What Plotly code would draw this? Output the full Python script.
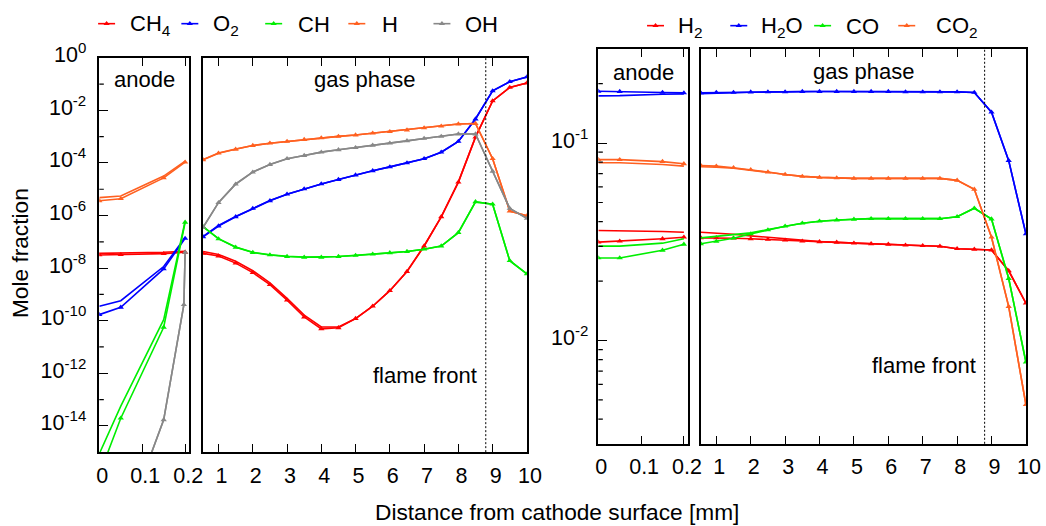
import plotly.graph_objects as go

W, H = 1046, 526
FONT = "Liberation Sans, Arial, Helvetica, sans-serif"
FS_TICK, FS_TEXT, FS_TITLE = 21.5, 22, 22.7

# ---------------- distance grids [mm] ----------------
anode_x = [0.0, 0.05, 0.15, 0.2]
oh_anode_x = [0.0, 0.05, 0.15, 0.197, 0.2]
gas_x = [0.55, 1.0, 1.5, 2.0, 2.5, 3.0, 3.5, 4.0, 4.5, 5.0,
         5.5, 6.0, 6.5, 7.0, 7.5, 8.0, 8.5, 9.0, 9.5, 10.0]
flame_front = 8.8

# ---------------- minor species, log10(mole fraction) ----------------
# run "a" is drawn with symbols, run "b" as a plain line
ch4_anode_a = [-7.50, -7.49, -7.45, -7.40]
ch4_anode_b = [-7.44, -7.43, -7.40, -7.36]
ch4_gas_a = [-7.44, -7.54, -7.81, -8.17, -8.63, -9.22, -9.86, -10.31, -10.27, -9.92,
             -9.45, -8.86, -8.13, -7.16, -6.05, -4.73, -3.02, -1.64, -1.13, -0.96]
ch4_gas_b = [-7.37, -7.48, -7.74, -8.10, -8.56, -9.15, -9.79, -10.24, -10.24, -9.92,
             -9.45, -8.86, -8.13, -7.16, -6.05, -4.73, -3.02, -1.64, -1.13, -0.96]

o2_anode_a = [-9.77, -9.49, -8.03, -6.87]
o2_anode_b = [-9.45, -9.24, -7.94, -6.84]
o2_gas_a = [-6.81, -6.40, -6.05, -5.73, -5.44, -5.19, -4.99, -4.80, -4.63, -4.46,
            -4.30, -4.15, -4.00, -3.84, -3.59, -3.18, -2.33, -1.26, -0.91, -0.73]
o2_gas_b = [-6.79, -6.38, -6.04, -5.72, -5.43, -5.19, -4.99, -4.80, -4.63, -4.46,
            -4.30, -4.15, -4.00, -3.84, -3.59, -3.18, -2.33, -1.26, -0.91, -0.73]

ch_anode_a = [-15.86, -13.71, -10.25, -6.26]
ch_anode_b = [-15.06, -13.25, -9.96, -6.21]
ch_gas_a = [-6.43, -6.89, -7.21, -7.41, -7.50, -7.56, -7.59, -7.59, -7.56, -7.52,
            -7.47, -7.42, -7.37, -7.28, -7.16, -6.65, -5.48, -5.57, -7.72, -8.22]
ch_gas_b = [-6.42, -6.88, -7.20, -7.40, -7.49, -7.55, -7.58, -7.58, -7.56, -7.52,
            -7.47, -7.42, -7.37, -7.28, -7.16, -6.65, -5.48, -5.57, -7.72, -8.22]

h_anode_a = [-5.44, -5.36, -4.57, -3.97]
h_anode_b = [-5.32, -5.26, -4.50, -3.93]
h_gas_a = [-3.88, -3.63, -3.48, -3.34, -3.25, -3.18, -3.11, -3.05, -2.99, -2.94,
           -2.87, -2.81, -2.75, -2.67, -2.60, -2.52, -2.50, -3.84, -5.83, -6.01]
h_gas_b = [-3.87, -3.62, -3.47, -3.34, -3.25, -3.18, -3.11, -3.05, -2.99, -2.94,
           -2.87, -2.81, -2.75, -2.67, -2.60, -2.52, -2.50, -3.84, -5.83, -6.01]

oh_anode_a = [-20.4, -18.2, -13.77, -9.39, -7.40]
oh_anode_b = [-20.4, -18.2, -13.77, -9.39, -7.40]
oh_gas_a = [-6.45, -5.51, -4.81, -4.35, -4.06, -3.84, -3.72, -3.59, -3.50, -3.42,
            -3.33, -3.25, -3.16, -3.07, -2.99, -2.90, -2.90, -4.32, -5.73, -6.11]
oh_gas_b = [-6.45, -5.50, -4.80, -4.34, -4.06, -3.84, -3.72, -3.59, -3.50, -3.42,
            -3.33, -3.25, -3.16, -3.07, -2.99, -2.90, -2.90, -4.32, -5.73, -6.11]

# ---------------- major species, log10(mole fraction) ----------------
h2_anode_a = [-1.502, -1.497, -1.485, -1.477]
h2_anode_b = [-1.443, -1.444, -1.448, -1.452]
h2_gas_a = [-1.480, -1.480, -1.482, -1.485, -1.488, -1.492, -1.497, -1.500, -1.503, -1.507,
            -1.510, -1.513, -1.517, -1.520, -1.523, -1.535, -1.538, -1.542, -1.647, -1.811]
h2_gas_b = [-1.452, -1.456, -1.462, -1.470, -1.478, -1.486, -1.494, -1.499, -1.503, -1.507,
            -1.510, -1.513, -1.517, -1.520, -1.523, -1.535, -1.538, -1.542, -1.647, -1.811]

h2o_anode_a = [-0.738, -0.739, -0.744, -0.746]
h2o_anode_b = [-0.761, -0.760, -0.753, -0.751]
h2o_gas_a = [-0.746, -0.744, -0.744, -0.742, -0.741, -0.741, -0.739, -0.739, -0.739, -0.739,
             -0.739, -0.739, -0.741, -0.741, -0.741, -0.741, -0.744, -0.844, -1.089, -1.460]
h2o_gas_b = [-0.750, -0.746, -0.745, -0.743, -0.741, -0.741, -0.739, -0.739, -0.739, -0.739,
             -0.739, -0.739, -0.741, -0.741, -0.741, -0.741, -0.744, -0.844, -1.089, -1.460]

co_anode_a = [-1.582, -1.582, -1.543, -1.513]
co_anode_b = [-1.522, -1.522, -1.507, -1.485]
co_gas_a = [-1.510, -1.498, -1.482, -1.460, -1.440, -1.421, -1.406, -1.396, -1.390, -1.386,
            -1.383, -1.383, -1.383, -1.383, -1.383, -1.373, -1.330, -1.385, -1.686, -2.109]
co_gas_b = [-1.480, -1.472, -1.465, -1.455, -1.438, -1.421, -1.406, -1.396, -1.390, -1.386,
            -1.383, -1.383, -1.383, -1.383, -1.383, -1.373, -1.330, -1.385, -1.686, -2.109]

co2_anode_a = [-1.084, -1.084, -1.094, -1.105]
co2_anode_b = [-1.100, -1.100, -1.109, -1.117]
co2_gas_a = [-1.114, -1.117, -1.125, -1.135, -1.147, -1.159, -1.169, -1.174, -1.177, -1.179,
             -1.179, -1.179, -1.179, -1.179, -1.179, -1.189, -1.234, -1.477, -1.828, -2.325]
co2_gas_b = [-1.120, -1.122, -1.128, -1.137, -1.148, -1.159, -1.169, -1.174, -1.177, -1.179,
             -1.179, -1.179, -1.179, -1.179, -1.179, -1.189, -1.234, -1.477, -1.828, -2.325]

# ---------------- tick labels ----------------
anode_ticks = [0, 0.1, 0.2]
anode_ticktext = ["0", "0.1", "0.2"]
gas_ticks = [1, 2, 3, 4, 5, 6, 7, 8, 9, 10]
left_exponents = [0, -2, -4, -6, -8, -10, -12, -14]
left_minor_exponents = [-1, -3, -5, -7, -9, -11, -13]
right_major = [0.01, 0.1]
right_ticktext = ["10<sup>-2</sup>", "10<sup>-1</sup>"]
right_minor = [0.004, 0.005, 0.006, 0.007, 0.008, 0.009,
               0.02, 0.03, 0.04, 0.05, 0.06, 0.07, 0.08, 0.09, 0.2]

RED, BLUE, GREEN, ORANGE, GRAY = "#ff0000", "#0000ff", "#00ee00", "#ff6020", "#888888"

left_species = [
    ("CH<sub>4</sub>", RED, anode_x, ch4_anode_a, ch4_anode_b, ch4_gas_a, ch4_gas_b),
    ("O<sub>2</sub>", BLUE, anode_x, o2_anode_a, o2_anode_b, o2_gas_a, o2_gas_b),
    ("CH", GREEN, anode_x, ch_anode_a, ch_anode_b, ch_gas_a, ch_gas_b),
    ("H", ORANGE, anode_x, h_anode_a, h_anode_b, h_gas_a, h_gas_b),
    ("OH", GRAY, oh_anode_x, oh_anode_a, oh_anode_b, oh_gas_a, oh_gas_b),
]
right_species = [
    ("H<sub>2</sub>", RED, anode_x, h2_anode_a, h2_anode_b, h2_gas_a, h2_gas_b),
    ("H<sub>2</sub>O", BLUE, anode_x, h2o_anode_a, h2o_anode_b, h2o_gas_a, h2o_gas_b),
    ("CO", GREEN, anode_x, co_anode_a, co_anode_b, co_gas_a, co_gas_b),
    ("CO<sub>2</sub>", ORANGE, anode_x, co2_anode_a, co2_anode_b, co2_gas_a, co2_gas_b),
]

LEFT_RANGE = [-15.0, 0.0]
RIGHT_RANGE = [-2.5229, -0.5229]

fig = go.Figure()


def add_runs(xs, run_a, run_b, color, xa, ya):
    """Plain run first, then the run with triangle symbols."""
    for vals, with_marker in ((run_b, False), (run_a, True)):
        fig.add_trace(go.Scatter(
            x=xs, y=[10 ** v for v in vals], xaxis=xa, yaxis=ya,
            mode="lines+markers" if with_marker else "lines",
            line=dict(color=color, width=1.6),
            marker=dict(symbol="triangle-up", size=5.5, color=color),
            hoverinfo="skip", showlegend=False))


for name, color, ax_x, an_a, an_b, g_a, g_b in left_species:
    add_runs(ax_x, an_a, an_b, color, "x", "y")
    add_runs(gas_x, g_a, g_b, color, "x2", "y2")
for name, color, ax_x, an_a, an_b, g_a, g_b in right_species:
    add_runs(ax_x, an_a, an_b, color, "x3", "y3")
    add_runs(gas_x, g_a, g_b, color, "x4", "y4")

# page placement of the plotting area (pixels of the displayed page)
PX0, PW = 4.5, 1030.0
PY0, PH = 16.0, 510.0


def fx(p):
    return (p - PX0) / PW


def fy(p):
    return 1 - (p - PY0) / PH


tickfont = dict(family=FONT, size=FS_TICK, color="black")


def x_axis(dom, rng, anchor, vals, text=None):
    d = dict(showgrid=False, zeroline=False, showline=True, linecolor="black",
             linewidth=1.5, ticks="inside", tickcolor="black", tickwidth=1.2,
             ticklen=8, mirror="ticks", tickfont=tickfont,
             ticklabelstandoff=3, ticklabelshift=3,
             domain=[fx(dom[0]), fx(dom[1])], range=rng, anchor=anchor,
             tickmode="array", tickvals=vals)
    if text is not None:
        d["ticktext"] = text
    return d


def y_axis(dom, rng, anchor, vals=None, text=None, standoff=0):
    d = dict(showgrid=False, zeroline=False, showline=True, linecolor="black",
             linewidth=1.5, mirror=True, type="log", range=rng, anchor=anchor,
             domain=[fy(dom[1]), fy(dom[0])], tickfont=tickfont)
    if vals is None:
        d.update(ticks="", showticklabels=False)
    else:
        d.update(ticks="inside", tickcolor="black", tickwidth=1.2, ticklen=9,
                 tickmode="array", tickvals=vals, ticktext=text,
                 ticklabelstandoff=standoff, ticklabelshift=-3)
    return d


LEFT_TOP, LEFT_BOT = 55.0, 451.7
RIGHT_TOP, RIGHT_BOT = 46.0, 443.3

fig.update_layout(
    width=W, height=H, margin=dict(l=0, r=0, t=0, b=0, pad=0),
    paper_bgcolor="white", plot_bgcolor="rgba(0,0,0,0)", showlegend=False,
    font=dict(family=FONT, size=FS_TEXT, color="black"),
    xaxis=x_axis((101.0, 191.3), [0, 0.21], "y", anode_ticks, anode_ticktext),
    yaxis=y_axis((LEFT_TOP, LEFT_BOT), LEFT_RANGE, "x",
                 [10.0 ** e for e in left_exponents],
                 ["10<sup>%d</sup>" % e for e in left_exponents], standoff=7),
    xaxis2=x_axis((205.0, 529.4), [0.55, 10], "y2", gas_ticks),
    yaxis2=y_axis((LEFT_TOP, LEFT_BOT), LEFT_RANGE, "x2"),
    xaxis3=x_axis((601.0, 691.0), [0, 0.21], "y3", anode_ticks, anode_ticktext),
    yaxis3=y_axis((RIGHT_TOP, RIGHT_BOT), RIGHT_RANGE, "x3", right_major, right_ticktext,
                  standoff=4),
    xaxis4=x_axis((703.7, 1029.4), [0.55, 10], "y4", gas_ticks),
    yaxis4=y_axis((RIGHT_TOP, RIGHT_BOT), RIGHT_RANGE, "x4"),
    # full-page overlay used for the key samples (page pixels)
    xaxis5=dict(domain=[0, 1], range=[PX0, PX0 + PW], visible=False, fixedrange=True,
                anchor="y5"),
    yaxis5=dict(domain=[0, 1], range=[PY0 + PH, PY0], visible=False, fixedrange=True,
                anchor="x5"),
)

# short minor ticks on the logarithmic axes
for ya, xa, vals in (("y", "x", [10.0 ** e for e in left_minor_exponents]),
                     ("y3", "x3", right_minor)):
    for v in vals:
        fig.add_shape(type="line", xref=xa + " domain", yref=ya, x0=0, x1=0.05,
                      y0=v, y1=v, line=dict(color="black", width=1.2))

# flame-front position
for xa, ya in (("x2", "y2"), ("x4", "y4")):
    fig.add_shape(type="line", xref=xa, yref=ya + " domain", x0=flame_front, x1=flame_front,
                  y0=0, y1=1, line=dict(color="black", width=1, dash="2px,2px"))


def label(text, px, py, xanchor="center", yanchor="middle", angle=0, size=FS_TEXT):
    fig.add_annotation(text=text, xref="paper", yref="paper", x=fx(px), y=fy(py),
                       xanchor=xanchor, yanchor=yanchor, showarrow=False, textangle=angle,
                       font=dict(family=FONT, size=size, color="black"))


label("anode", 146, 77)
label("gas phase", 367, 77)
label("flame front", 481, 375, xanchor="right")
label("anode", 646, 70)
label("gas phase", 867, 69)
label("flame front", 981, 365, xanchor="right")
label("Mole fraction", 21, 251, angle=-90, size=FS_TITLE)
label("Distance from cathode surface [mm]", 560, 511.5, size=FS_TITLE)

# keys: sample centre, text start
left_keys = [(108.3, 129.5), (191.7, 213.0), (275.7, 298.0), (359.0, 382.0), (444.3, 465.5)]
right_keys = [(658.3, 679.0), (741.7, 762.3), (825.7, 847.3), (910.0, 937.3)]
for keys, species, ky in ((left_keys, left_species, 20.7), (right_keys, right_species, 22.7)):
    for (cx, tx), sp in zip(keys, species):
        name, color = sp[0], sp[1]
        fig.add_trace(go.Scatter(x=[cx - 8.5, cx + 8.5], y=[ky, ky], xaxis="x5", yaxis="y5",
                                 mode="lines", line=dict(color=color, width=1.6),
                                 hoverinfo="skip", showlegend=False, cliponaxis=False))
        fig.add_trace(go.Scatter(x=[cx], y=[ky], xaxis="x5", yaxis="y5", mode="markers",
                                 marker=dict(symbol="triangle-up", size=5.5, color=color),
                                 hoverinfo="skip", showlegend=False, cliponaxis=False))
        label(name, tx, ky + 1, xanchor="left")

fig.write_html("out.html")
